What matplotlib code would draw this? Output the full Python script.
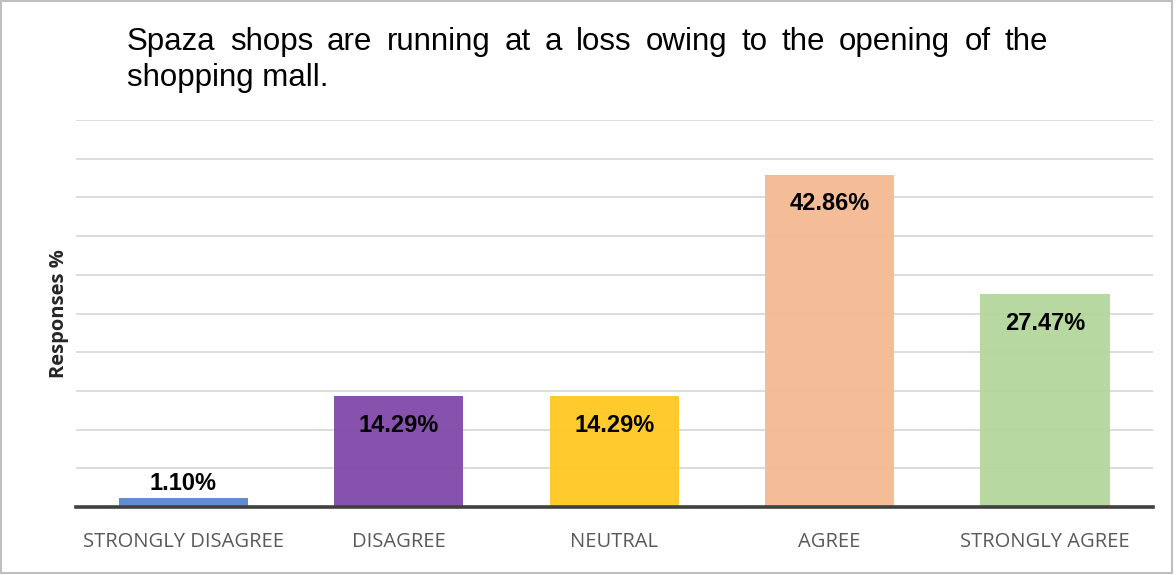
import matplotlib
matplotlib.use("Agg")
import matplotlib.pyplot as plt
from matplotlib.patches import Rectangle

categories = ["STRONGLY DISAGREE", "DISAGREE", "NEUTRAL", "AGREE", "STRONGLY AGREE"]
values = [1.10, 14.29, 14.29, 42.86, 27.47]
colors = ["#5B87D0", "#8149AA", "#FFC920", "#F5BA92", "#B3D69B"]
title_lines = ["Spaza shops are running at a loss owing to the opening of the",
               "shopping mall."]
ylabel = "Responses %"

W, H = 1176, 575
fig = plt.figure(figsize=(W / 100, H / 100), dpi=100)
ax = fig.add_axes([75.8 / W, 68 / H, (1152.7 - 75.8) / W, (507 - 120) / H])

x = range(len(categories))
ax.set_xlim(-0.5, len(categories) - 0.5)
ax.set_ylim(0, 50)

for yv in range(5, 51, 5):
    ax.axhline(yv, color="#D9D9D9", lw=1.3, zorder=1)

bars = ax.bar(x, values, width=0.6, color=colors, alpha=0.95, zorder=2)
ax.axhline(0, color="#404040", lw=2.6, zorder=4, clip_on=False)

label_font = dict(fontsize=17, fontweight="bold", family="Liberation Sans",
                  color="#000000", zorder=5)
for i, v in enumerate(values):
    label = f"{v:.2f}%"
    if v < 5:
        ax.text(i, v + 1.9, label, ha="center", va="center", **label_font)
    else:
        ax.text(i, v - 3.7, label, ha="center", va="center", **label_font)

ax.set_xticks(list(x))
ax.set_xticklabels(categories, family="Open Sans", fontsize=14.5, color="#595959")
ax.tick_params(axis="x", length=0, pad=18)
ax.set_yticks([])
for s in ax.spines.values():
    s.set_visible(False)

fig.text(59 / W, 1 - 314 / H, ylabel, rotation=90, ha="center", va="center",
         family="Open Sans", fontweight="bold", fontsize=14.5, color="#262626")

# Title: first line justified between left and right margins, second line flush left
title_font = dict(family="Liberation Sans", fontsize=22.5, color="#000000",
                  va="baseline", ha="left")
left_px, right_px = 127, 1048
renderer = fig.canvas.get_renderer()
words = title_lines[0].split()
word_texts = [fig.text(0, 1 - 50 / H, w, **title_font) for w in words]
widths = [t.get_window_extent(renderer).width for t in word_texts]
gap = (right_px - left_px - sum(widths)) / (len(words) - 1)
xpos = left_px
for t, wdt in zip(word_texts, widths):
    t.set_x(xpos / W)
    xpos += wdt + gap
fig.text(left_px / W, 1 - 86 / H, title_lines[1], **title_font)

fig.patches.append(Rectangle((1 / W, 2 / H), (W - 5) / W, (H - 3) / H,
                             transform=fig.transFigure, fill=False,
                             edgecolor="#BFBFBF", lw=1.5))

fig.savefig("out.png", dpi=100)
